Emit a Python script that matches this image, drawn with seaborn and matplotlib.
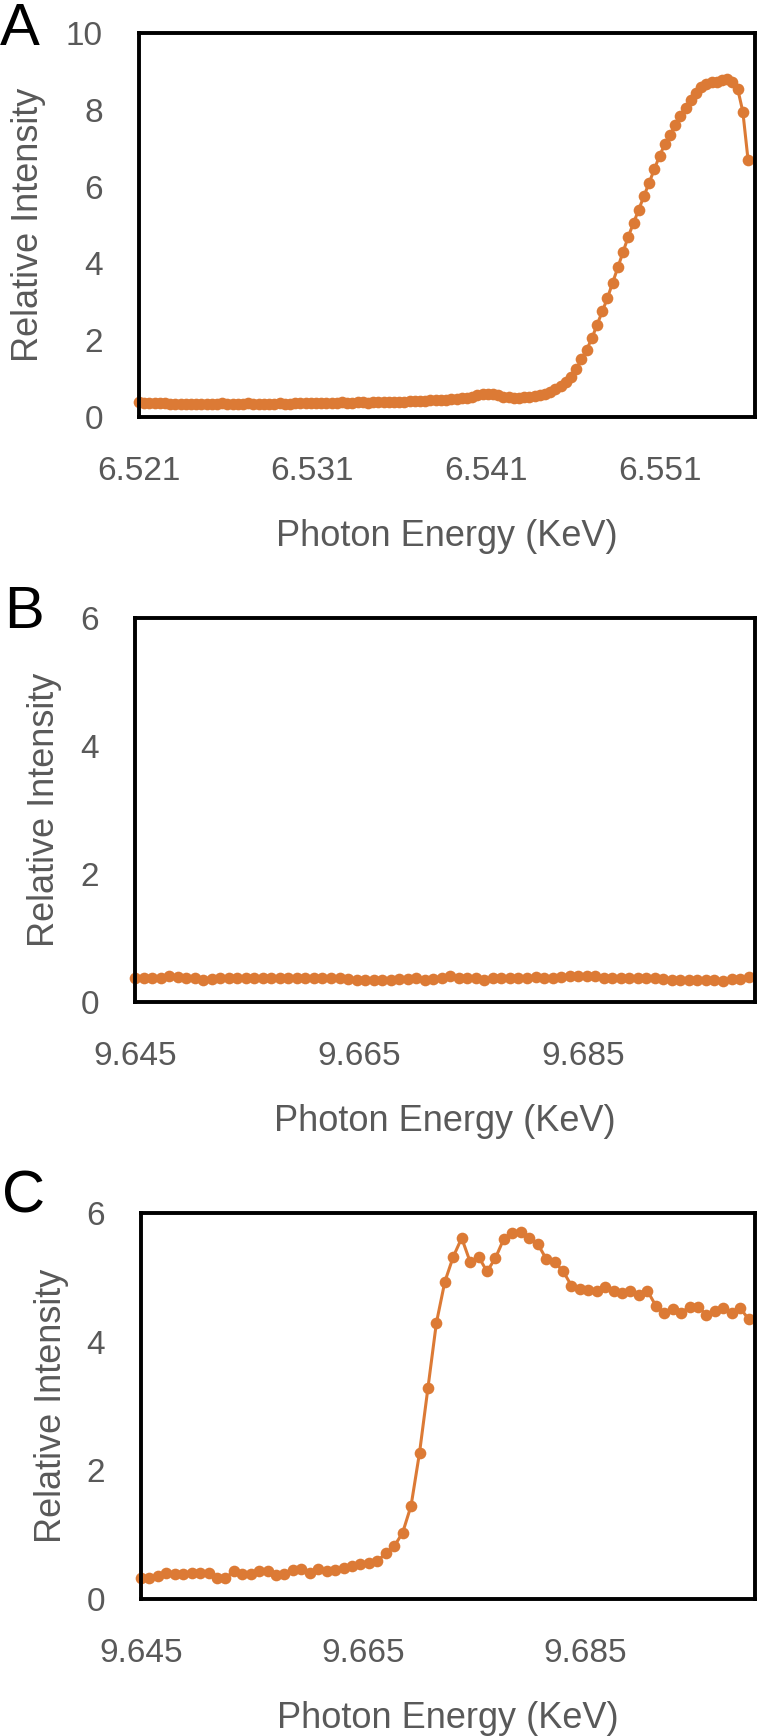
import matplotlib
matplotlib.use("Agg")
import matplotlib.pyplot as plt
import seaborn as sns

# Mn K-edge scan (panel A)
energy_mn = [
    6.5210, 6.5213, 6.5216, 6.5219, 6.5222, 6.5225, 6.5228, 6.5231, 6.5234, 6.5237,
    6.5240, 6.5243, 6.5246, 6.5249, 6.5252, 6.5255, 6.5258, 6.5261, 6.5264, 6.5267,
    6.5270, 6.5273, 6.5276, 6.5279, 6.5282, 6.5285, 6.5288, 6.5291, 6.5294, 6.5297,
    6.5300, 6.5303, 6.5306, 6.5309, 6.5312, 6.5315, 6.5318, 6.5321, 6.5324, 6.5327,
    6.5330, 6.5333, 6.5336, 6.5339, 6.5342, 6.5345, 6.5348, 6.5351, 6.5354, 6.5357,
    6.5360, 6.5363, 6.5366, 6.5369, 6.5372, 6.5375, 6.5378, 6.5381, 6.5384, 6.5387,
    6.5390, 6.5393, 6.5396, 6.5399, 6.5402, 6.5405, 6.5408, 6.5411, 6.5414, 6.5417,
    6.5420, 6.5423, 6.5426, 6.5429, 6.5432, 6.5435, 6.5438, 6.5441, 6.5444, 6.5447,
    6.5450, 6.5453, 6.5456, 6.5459, 6.5462, 6.5465, 6.5468, 6.5471, 6.5474, 6.5477,
    6.5480, 6.5483, 6.5486, 6.5489, 6.5492, 6.5495, 6.5498, 6.5501, 6.5504, 6.5507,
    6.5510, 6.5513, 6.5516, 6.5519, 6.5522, 6.5525, 6.5528, 6.5531, 6.5534, 6.5537,
    6.5540, 6.5543, 6.5546, 6.5549, 6.5552, 6.5555, 6.5558, 6.5561,
]
intensity_a = [
    0.38, 0.37, 0.37, 0.36, 0.37, 0.36, 0.35, 0.35, 0.34, 0.35,
    0.34, 0.34, 0.35, 0.34, 0.34, 0.35, 0.36, 0.35, 0.34, 0.35,
    0.35, 0.36, 0.35, 0.34, 0.35, 0.34, 0.35, 0.36, 0.35, 0.35,
    0.36, 0.36, 0.37, 0.36, 0.36, 0.37, 0.37, 0.36, 0.37, 0.38,
    0.37, 0.37, 0.38, 0.38, 0.37, 0.38, 0.39, 0.38, 0.39, 0.39,
    0.40, 0.40, 0.41, 0.41, 0.42, 0.42, 0.43, 0.43, 0.44, 0.45,
    0.46, 0.47, 0.49, 0.50, 0.53, 0.56, 0.59, 0.61, 0.60, 0.57,
    0.53, 0.51, 0.49, 0.50, 0.52, 0.53, 0.55, 0.57, 0.60, 0.65,
    0.72, 0.80, 0.90, 1.05, 1.25, 1.50, 1.75, 2.05, 2.40, 2.75,
    3.10, 3.50, 3.90, 4.30, 4.70, 5.05, 5.40, 5.75, 6.10, 6.45,
    6.80, 7.10, 7.35, 7.60, 7.85, 8.05, 8.25, 8.45, 8.60, 8.68,
    8.72, 8.72, 8.78, 8.80, 8.72, 8.55, 7.95, 6.70,
]

# Zn K-edge scan (panels B and C share the energy grid)
energy_zn = [
    9.64500, 9.64576, 9.64652, 9.64728, 9.64804, 9.64880, 9.64956, 9.65032, 9.65108, 9.65184,
    9.65260, 9.65336, 9.65412, 9.65488, 9.65564, 9.65640, 9.65716, 9.65792, 9.65868, 9.65944,
    9.66020, 9.66096, 9.66172, 9.66248, 9.66324, 9.66400, 9.66476, 9.66552, 9.66628, 9.66704,
    9.66780, 9.66856, 9.66932, 9.67008, 9.67084, 9.67160, 9.67236, 9.67312, 9.67388, 9.67464,
    9.67540, 9.67616, 9.67692, 9.67768, 9.67844, 9.67920, 9.67996, 9.68072, 9.68148, 9.68224,
    9.68300, 9.68376, 9.68452, 9.68528, 9.68604, 9.68680, 9.68756, 9.68832, 9.68908, 9.68984,
    9.69060, 9.69136, 9.69212, 9.69288, 9.69364, 9.69440, 9.69516, 9.69592, 9.69668, 9.69744,
    9.69820, 9.69896, 9.69972,
]
intensity_b = [
    0.38, 0.37, 0.37, 0.38, 0.41, 0.39, 0.38, 0.37, 0.34, 0.36,
    0.37, 0.37, 0.37, 0.37, 0.37, 0.37, 0.37, 0.37, 0.37, 0.37,
    0.37, 0.37, 0.37, 0.38, 0.38, 0.36, 0.35, 0.35, 0.35, 0.35,
    0.35, 0.36, 0.36, 0.38, 0.35, 0.36, 0.37, 0.40, 0.38, 0.37,
    0.37, 0.35, 0.37, 0.37, 0.37, 0.37, 0.37, 0.39, 0.37, 0.38,
    0.39, 0.40, 0.40, 0.40, 0.40, 0.38, 0.37, 0.37, 0.37, 0.37,
    0.37, 0.37, 0.36, 0.35, 0.35, 0.35, 0.35, 0.35, 0.35, 0.33,
    0.36, 0.36, 0.39,
]
intensity_c = [
    0.33, 0.33, 0.36, 0.40, 0.39, 0.39, 0.40, 0.40, 0.41, 0.33,
    0.33, 0.43, 0.39, 0.39, 0.43, 0.43, 0.38, 0.39, 0.45, 0.47,
    0.41, 0.46, 0.44, 0.45, 0.48, 0.51, 0.54, 0.56, 0.59, 0.71,
    0.82, 1.03, 1.45, 2.27, 3.28, 4.29, 4.93, 5.32, 5.61, 5.24,
    5.32, 5.09, 5.30, 5.60, 5.69, 5.71, 5.61, 5.52, 5.29, 5.23,
    5.10, 4.87, 4.82, 4.80, 4.78, 4.85, 4.79, 4.76, 4.78, 4.73,
    4.79, 4.56, 4.45, 4.50, 4.45, 4.54, 4.54, 4.42, 4.47, 4.52,
    4.45, 4.52, 4.35,
]

xticks_mn = [6.521, 6.531, 6.541, 6.551]
xticks_zn = [9.645, 9.665, 9.685]
panel_letters = ["A", "B", "C"]

sns.set_style("white")
plt.rcParams["font.family"] = ["Liberation Sans", "DejaVu Sans"]

orange = "#DC7A35"
grey = "#595959"

fig = plt.figure(figsize=(7.59, 17.36), dpi=100)

panels = [
    # rect, x, y, xlim, xticks, ymax, ylabel x, letter position
    ([0.1831, 0.7598, 0.8116, 0.2212], energy_mn, intensity_a, (6.521, 6.5565), xticks_mn, 10, -0.180, (0.000, 0.9741)),
    ([0.1779, 0.4228, 0.8169, 0.2212], energy_zn, intensity_b, (9.645, 9.7003), xticks_zn, 6, -0.146, (0.006, 0.6385)),
    ([0.1858, 0.0789, 0.8090, 0.2224], energy_zn, intensity_c, (9.645, 9.7003), xticks_zn, 6, -0.145, (0.002, 0.3013)),
]

for (rect, xs, ys, xlim, xt, ymax, ylx, lpos), letter in zip(panels, panel_letters):
    ax = fig.add_axes(rect)
    sns.lineplot(x=xs, y=ys, ax=ax, color=orange, linewidth=2.2,
                 marker="o", markersize=8.4, markeredgewidth=0,
                 clip_on=False)
    ax.set_xlim(*xlim)
    ax.set_ylim(0, ymax)
    ax.set_xticks(xt)
    ax.set_xticklabels([f"{v:.3f}" for v in xt])
    ax.set_yticks(range(0, ymax + 1, 2))
    ax.tick_params(length=0, labelsize=24, labelcolor=grey)
    ax.tick_params(axis="x", pad=28)
    ax.tick_params(axis="y", pad=26)
    for s in ax.spines.values():
        s.set_visible(True)
        s.set_color("black")
        s.set_linewidth(2.8)
    ax.set_xlabel("Photon Energy (KeV)", fontsize=26, color=grey)
    ax.set_ylabel("Relative Intensity", fontsize=26, color=grey)
    ax.xaxis.set_label_coords(0.5, -0.31)
    ax.xaxis.label.set_va("center")
    ax.yaxis.set_label_coords(ylx, 0.5)
    ax.yaxis.label.set_va("center")
    fig.text(lpos[0], lpos[1], letter, fontsize=43, color="black",
             ha="left", va="baseline")

fig.savefig("out.png", dpi=100)
